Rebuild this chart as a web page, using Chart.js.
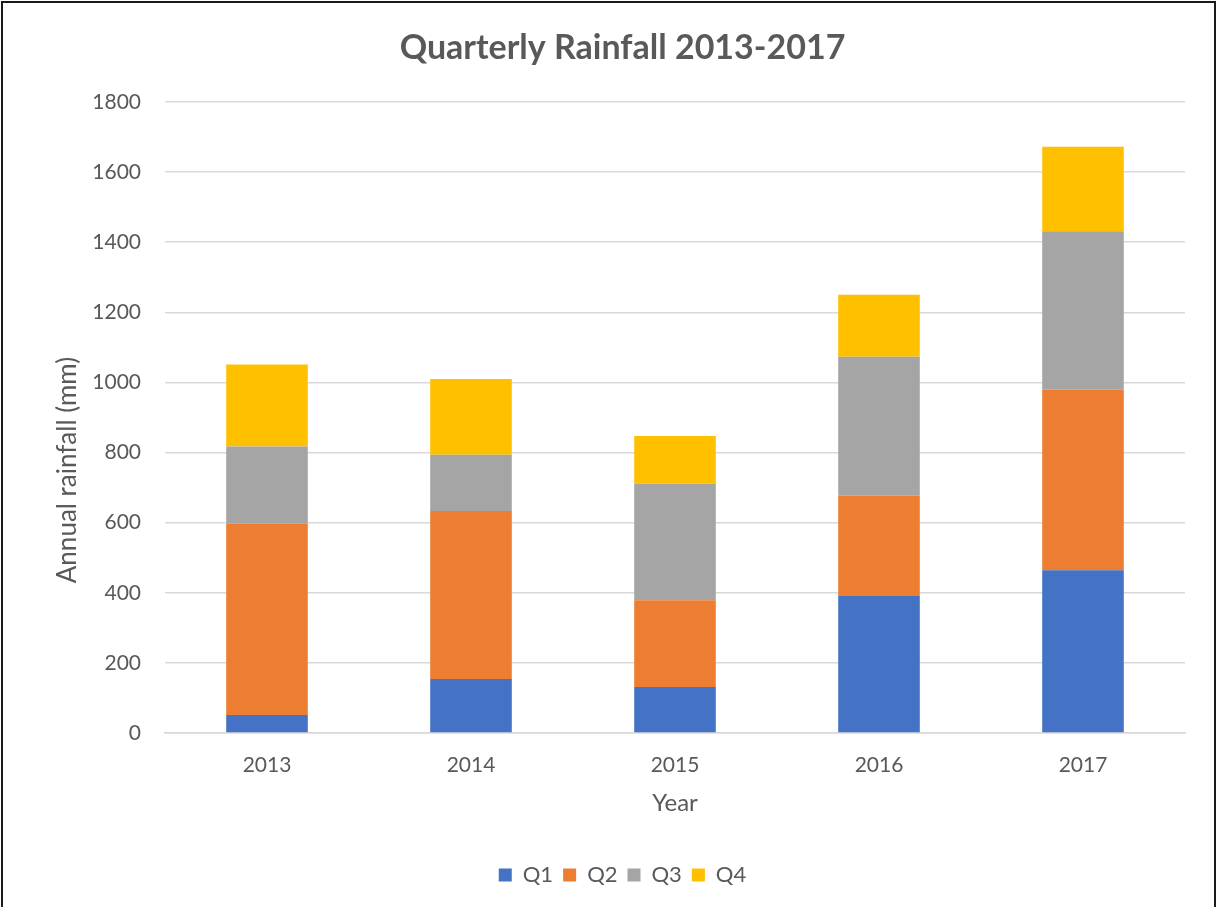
<!DOCTYPE html>
<html>
<head>
<meta charset="utf-8">
<script src="https://cdn.jsdelivr.net/npm/chart.js@4.4.1/dist/chart.umd.min.js"></script>
<style>
  html, body { margin: 0; padding: 0; background: #fff; overflow: hidden; }
  #wrap { position: absolute; left: 0; top: 0; width: 1225px; height: 907px; }
  #frame { position: absolute; left: 1px; top: 1px; width: 1211px; height: 1000px; border: 2px solid #1a1a1a; pointer-events: none; }
</style>
</head>
<body>
<div id="wrap">
  <canvas id="c" width="1225" height="907"></canvas>
  <div id="frame"></div>
</div>
<script>
const years = ['2013', '2014', '2015', '2016', '2017'];
const q1 = [51, 154, 131, 391, 464];
const q2 = [546, 479, 248, 286, 516];
const q3 = [220, 161, 332, 396, 451];
const q4 = [234, 216, 136, 177, 241];
const seriesNames = ['Q1', 'Q2', 'Q3', 'Q4'];
const seriesColors = ['#4472C4', '#ED7D31', '#A5A5A5', '#FFC000'];
const chartTitle = 'Quarterly Rainfall 2013-2017';
const xTitle = 'Year';
const yTitle = 'Annual rainfall (mm)';

const FONT = 'Lato, "Open Sans", sans-serif';
const TEXT = '#595959';

const yTitlePlugin = {
  id: 'yTitlePlugin',
  afterDraw(chart) {
    const ctx = chart.ctx;
    ctx.save();
    ctx.translate(68, 470);
    ctx.rotate(-Math.PI / 2);
    ctx.font = '26px ' + FONT;
    ctx.fillStyle = TEXT;
    ctx.textAlign = 'center';
    ctx.textBaseline = 'middle';
    ctx.fillText(yTitle, 0, 0);
    ctx.restore();
  }
};

const data = [q1, q2, q3, q4];
new Chart(document.getElementById('c'), {
  type: 'bar',
  data: {
    labels: years,
    datasets: seriesNames.map((n, i) => ({
      label: n,
      data: data[i],
      backgroundColor: seriesColors[i],
      borderWidth: 0,
      categoryPercentage: 1.0,
      barPercentage: 0.4
    }))
  },
  options: {
    responsive: false,
    devicePixelRatio: 1,
    animation: false,
    layout: { padding: { left: 60, right: 40, top: 0, bottom: 11 } },
    plugins: {
      title: {
        display: true,
        text: chartTitle,
        color: TEXT,
        font: { family: FONT, size: 34, weight: 'bold' },
        padding: { top: 27.6, bottom: 33.6 }
      },
      legend: {
        position: 'bottom',
        labels: {
          color: TEXT,
          font: { family: FONT, size: 22 },
          boxWidth: 13,
          boxHeight: 13,
          padding: 10
        }
      },
      tooltip: { enabled: false }
    },
    scales: {
      x: {
        stacked: true,
        grid: { display: false, drawTicks: false },
        border: { display: true, color: '#d9d9d9', width: 1.5 },
        ticks: { color: TEXT, font: { family: FONT, size: 21 }, padding: 20 },
        title: {
          display: true, text: xTitle, color: TEXT,
          font: { family: FONT, size: 24 },
          padding: { top: 0, bottom: 36.6 }
        },
        afterFit(scale) { scale.height = 121; }
      },
      y: {
        stacked: true,
        min: 0,
        max: 1800,
        ticks: {
          stepSize: 200, color: TEXT, font: { family: FONT, size: 21 }, padding: 24,
          callback: (v) => String(v)
        },
        grid: { color: '#d9d9d9', lineWidth: 1.5, drawTicks: false },
        border: { display: false },
        title: { display: false },
        afterFit(scale) { scale.width = 105; }
      }
    }
  },
  plugins: [yTitlePlugin]
});
</script>
</body>
</html>
